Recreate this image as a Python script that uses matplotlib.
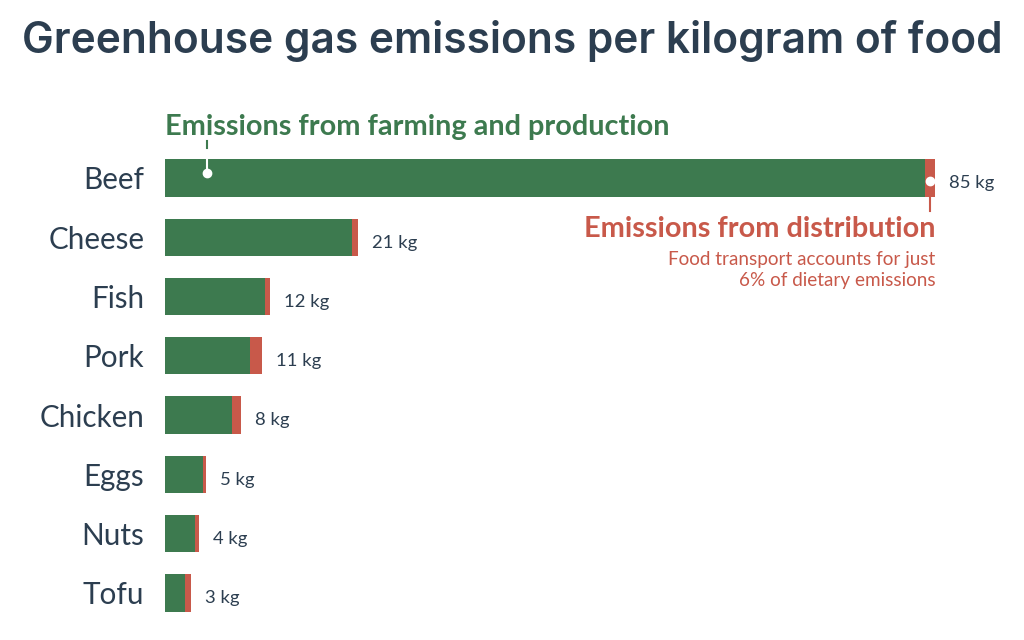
import numpy as np
import matplotlib.pyplot as plt

foods = ['Beef', 'Cheese', 'Fish', 'Pork', 'Chicken', 'Eggs', 'Nuts', 'Tofu']
farming = [83.9, 20.6, 11.0, 9.4, 7.4, 4.2, 3.3, 2.2]
distribution = [1.1, 0.7, 0.55, 1.3, 0.95, 0.35, 0.4, 0.65]
value_labels = ['85 kg', '21 kg', '12 kg', '11 kg', '8 kg', '5 kg', '4 kg', '3 kg']

green = '#3d7a4f'
red = '#c8594a'
dark = '#2c3e50'
font = ['Lato', 'DejaVu Sans']

fig = plt.figure(figsize=(10.24, 6.4), dpi=100)
ax = fig.add_axes([165 / 1024, 1 - 622.6 / 640, (1000 - 165) / 1024, 474.3 / 640])

y = np.arange(len(foods))
farming = np.array(farming)
distribution = np.array(distribution)
ax.barh(y, farming, height=0.63, color=green)
ax.barh(y, distribution, left=farming, height=0.63, color=red)

for yi, tot, lab in zip(y, farming + distribution, value_labels):
    ax.text(tot + 1.55, yi + 0.09, lab, va='center', ha='left', fontsize=13.3,
            color=dark, family=font)

ax.set_xlim(0, 835 / 9.062)
ax.set_ylim(7.5, -0.5)
ax.set_yticks(y)
ax.set_yticklabels(foods, fontsize=21.3, color=dark, family=font)
ax.tick_params(axis='y', length=0, pad=15)
ax.set_xticks([])
for s in ax.spines.values():
    s.set_visible(False)

# farming annotation
ax.plot([4.6, 4.6], [-0.08, -0.62], color='white', lw=1.5, clip_on=False, zorder=3)
ax.plot([4.6, 4.6], [-0.5, -0.62], color=green, lw=1.5, clip_on=False, zorder=3)
ax.plot(4.6, -0.08, 'o', ms=6, color='white', zorder=4, clip_on=False)
ax.text(0, -0.73, 'Emissions from farming and production', color=green,
        fontsize=20.8, fontweight='bold', family=font, va='baseline', ha='left')

# distribution annotation
ax.plot([84.4, 84.4], [0.05, 0.56], color=red, lw=1.5, clip_on=False, zorder=3)
ax.plot(84.4, 0.05, 'o', ms=6, color='white', zorder=4, clip_on=False)
ax.text(85.0, 1.0, 'Emissions from distribution', color=red, fontsize=20.8,
        fontweight='bold', family=font, va='baseline', ha='right')
ax.text(85.0, 1.55, 'Food transport accounts for just\n6% of dietary emissions',
        color=red, fontsize=13.6, family=font, va='center', ha='right',
        linespacing=1.3)

fig.text(22 / 1024, 1 - 41 / 640, 'Greenhouse gas emissions per kilogram of food',
         fontsize=30.5, fontweight='semibold', color=dark,
         family=['Inter', 'DejaVu Sans'], va='center', ha='left')

fig.savefig('out.png', dpi=100, facecolor='white')
